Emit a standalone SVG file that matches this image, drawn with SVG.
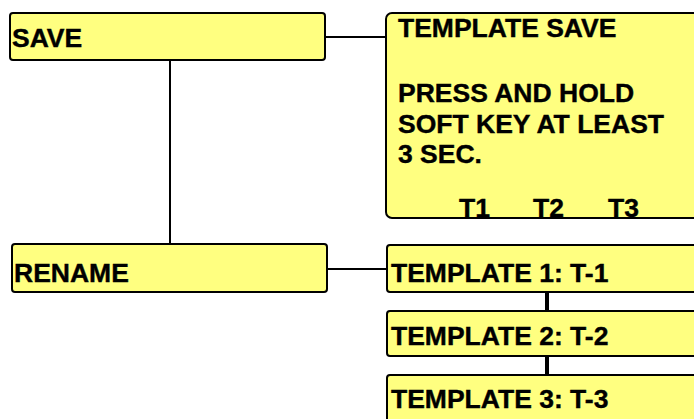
<svg xmlns="http://www.w3.org/2000/svg" width="694" height="419" viewBox="0 0 694 419">
<style>
.box{fill:#ffff80;stroke:#000;stroke-width:2}
.t{font-family:"Liberation Sans",Arial,sans-serif;font-weight:bold;font-size:26.5px;fill:#000;stroke:#000;stroke-width:0.4}
.c{stroke:#000;stroke-width:2;fill:none}
.ct{stroke:#000;stroke-width:4;fill:none}
</style>
<rect width="694" height="419" fill="#fff"/>
<g id="connectors">
<line class="c" x1="325" y1="37" x2="386" y2="37"/>
<line class="c" x1="170" y1="60" x2="170" y2="244"/>
<line class="c" x1="327" y1="269" x2="387" y2="269"/>
<line class="ct" x1="547" y1="292" x2="547" y2="311"/>
<line class="ct" x1="547" y1="356" x2="547" y2="375"/>
</g>
<g id="save">
<rect class="box" x="10" y="13" width="315" height="47" rx="3"/>
<text class="t" x="12" y="47">SAVE</text>
</g>
<g id="template-save">
<rect class="box" x="386" y="13" width="330" height="205" rx="6"/>
<text class="t" x="398" y="37">TEMPLATE SAVE</text>
<text class="t" x="398" y="102">PRESS AND HOLD</text>
<text class="t" x="398" y="133">SOFT KEY AT LEAST</text>
<text class="t" x="398" y="163">3 SEC.</text>
<text class="t" x="459" y="217">T1</text>
<text class="t" x="533" y="217">T2</text>
<text class="t" x="608" y="217">T3</text>
</g>
<g id="rename">
<rect class="box" x="12" y="244" width="315" height="48" rx="3"/>
<text class="t" x="14" y="282">RENAME</text>
</g>
<g id="template1">
<rect class="box" x="387" y="245" width="330" height="47" rx="3"/>
<text class="t" x="391" y="282">TEMPLATE 1: T-1</text>
</g>
<g id="template2">
<rect class="box" x="387" y="311" width="330" height="45" rx="3"/>
<text class="t" x="391" y="345">TEMPLATE 2: T-2</text>
</g>
<g id="template3">
<rect class="box" x="387" y="375" width="330" height="60" rx="3"/>
<text class="t" x="391" y="408">TEMPLATE 3: T-3</text>
</g>
</svg>
